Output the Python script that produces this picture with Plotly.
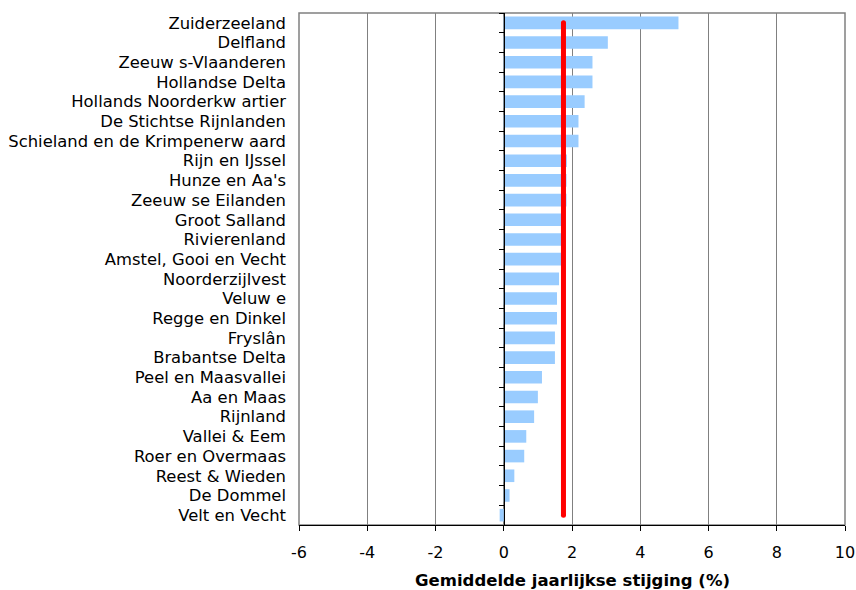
import plotly.graph_objects as go

regions = [
    "Zuiderzeeland", "Delfland", "Zeeuw s-Vlaanderen", "Hollandse Delta",
    "Hollands Noorderkw artier", "De Stichtse Rijnlanden",
    "Schieland en de Krimpenerw aard", "Rijn en IJssel", "Hunze en Aa's",
    "Zeeuw se Eilanden", "Groot Salland", "Rivierenland",
    "Amstel, Gooi en Vecht", "Noorderzijlvest", "Veluw e", "Regge en Dinkel",
    "Fryslân", "Brabantse Delta", "Peel en Maasvallei", "Aa en Maas",
    "Rijnland", "Vallei & Eem", "Roer en Overmaas", "Reest & Wieden",
    "De Dommel", "Velt en Vecht",
]
growth = [
    5.12, 3.05, 2.60, 2.60, 2.37, 2.19, 2.19, 1.85, 1.84, 1.84, 1.75, 1.74,
    1.72, 1.62, 1.56, 1.56, 1.50, 1.50, 1.12, 1.00, 0.89, 0.66, 0.60, 0.31,
    0.17, -0.12,
]
average = 1.75
x_ticks = [-6, -4, -2, 0, 2, 4, 6, 8, 10]
x_title = "Gemiddelde jaarlijkse stijging (%)"

n = len(regions)
font_family = "DejaVu Sans, Liberation Sans, Arial, sans-serif"

fig = go.Figure()
fig.add_trace(go.Bar(
    x=growth, y=regions, orientation="h",
    marker=dict(color="#99CCFF", line=dict(width=0)),
    showlegend=False, hoverinfo="x+y",
))
# invisible trace to drive the zero-position category axis
fig.add_trace(go.Scatter(
    x=[0] * n, y=regions, yaxis="y2", mode="markers",
    marker=dict(opacity=0), showlegend=False, hoverinfo="skip",
))
fig.add_trace(go.Scatter(
    x=[average, average], y=[regions[0], regions[-1]], yaxis="y2",
    mode="lines+markers",
    line=dict(color="#FF0000", width=5),
    marker=dict(color="#FF0000", size=5, symbol="circle"),
    showlegend=False, hoverinfo="skip",
))

fig.update_layout(
    width=856, height=590,
    margin=dict(l=299, r=11, t=13, b=65),
    paper_bgcolor="white", plot_bgcolor="white",
    bargap=0.36,
    font=dict(family=font_family, size=16, color="black"),
    xaxis=dict(
        range=[-6, 10], tickmode="array", tickvals=x_ticks,
        ticktext=[str(v) for v in x_ticks],
        showgrid=True, gridcolor="#808080", gridwidth=1,
        zeroline=False, automargin=False,
        showline=True, linecolor="black", linewidth=1,
        ticks="outside", ticklen=5, tickcolor="black",
        ticklabelstandoff=8,
        tickfont=dict(size=16),
    ),
    yaxis=dict(
        categoryorder="array", categoryarray=regions,
        tickmode="array", tickvals=regions, ticktext=regions,
        range=[n - 0.5, -0.5], automargin=False,
        showgrid=False, zeroline=False, showline=False,
        ticks="", ticklabelstandoff=12,
        tickfont=dict(size=16.4),
    ),
    yaxis2=dict(
        overlaying="y", anchor="free", position=6 / 16,
        categoryorder="array", categoryarray=regions,
        range=[n - 0.5, -0.5], automargin=False,
        showgrid=False, zeroline=False,
        showline=True, linecolor="black", linewidth=1,
        ticks="outside", tickson="boundaries", ticklen=5, tickcolor="black",
        showticklabels=False,
    ),
    shapes=[dict(
        type="rect", xref="paper", yref="paper", x0=0, x1=1, y0=0, y1=1,
        line=dict(color="#808080", width=1.5), layer="below",
    )],
    annotations=[dict(
        text="<b>" + x_title + "</b>", xref="paper", yref="paper",
        x=0.5, y=0, xanchor="center", yanchor="middle", yshift=-55,
        showarrow=False, font=dict(size=16.5, color="black"),
    )],
)

fig.write_html(
    "out.html",
    config={"displayModeBar": False},
    post_script="document.body.style.margin='0';document.body.style.overflow='hidden';",
)
